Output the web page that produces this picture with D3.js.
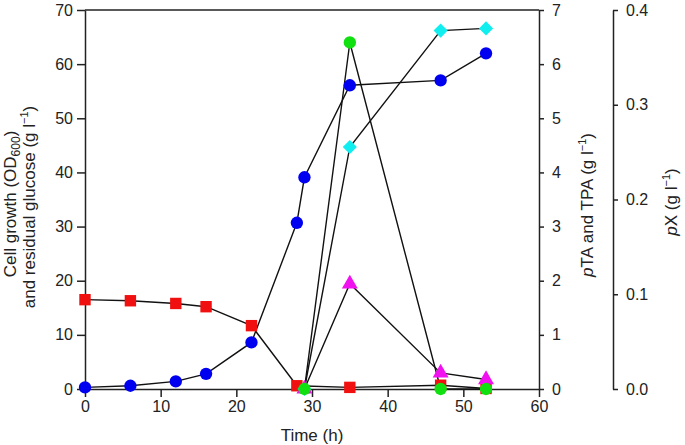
<!DOCTYPE html>
<html><head><meta charset="utf-8">
<script src="https://cdn.jsdelivr.net/npm/d3@7"></script>
<style>
body{margin:0;background:#fff;}
svg text{font-family:"Liberation Sans",Arial,Helvetica,sans-serif;fill:#222;}
</style></head>
<body><svg id="c" width="685" height="445"></svg>
<script>
// Data
const odTime = [0, 6, 12, 16, 22, 28, 29, 35, 47, 53];
const odValues = [0.3, 0.6, 1.4, 2.8, 8.6, 30.7, 39.1, 56.1, 57.0, 62.0];
const glucoseTime = [0, 6, 12, 16, 22, 28, 35, 47, 53];
const glucoseValues = [16.5, 16.3, 15.8, 15.2, 11.7, 0.6, 0.3, 0.7, 0.1];
const ptaTime = [29, 35, 47, 53];
const ptaValues = [0, 6.4, 0, 0];
const tpaTime = [29, 35, 47, 53];
const tpaValues = [0, 4.47, 6.62, 6.66];
const pxTime = [29, 35, 47, 53];
const pxValues = [0, 0.111, 0.017, 0.010];
const xTicks = [0, 10, 20, 30, 40, 50, 60];
const leftTicks = [0, 10, 20, 30, 40, 50, 60, 70];
const rightTicks = [0, 1, 2, 3, 4, 5, 6, 7];
const pxTicks = [0, 0.1, 0.2, 0.3, 0.4];

const svg = d3.select("#c");
const L = 85, R = 539, T = 10, B = 389;
const x = d3.scaleLinear().domain([0, 60]).range([L, R]);
const yL = d3.scaleLinear().domain([0, 70]).range([B, T]);
const yR = d3.scaleLinear().domain([0, 7]).range([B, T]);
const yP = d3.scaleLinear().domain([0, 0.4]).range([B, T]);
const fs = 16, tfs = 17;

function styleAxis(g){
  g.selectAll("path").attr("stroke","#222").attr("stroke-width",1.5);
  g.selectAll("line").attr("stroke","#222").attr("stroke-width",1.5);
  g.selectAll("text").style("font-size", fs+"px");
}
svg.append("g").attr("transform",`translate(0,${B})`)
  .call(d3.axisBottom(x).tickValues(xTicks).tickSize(8).tickSizeOuter(0).tickPadding(4))
  .call(styleAxis);
svg.append("g").attr("transform",`translate(${L},0)`)
  .call(d3.axisLeft(yL).tickValues(leftTicks).tickSize(8).tickSizeOuter(0).tickPadding(4))
  .call(styleAxis);
svg.append("g").attr("transform",`translate(${R},0)`)
  .call(d3.axisRight(yR).tickValues(rightTicks).tickSize(5).tickSizeOuter(0).tickPadding(8).tickFormat(d3.format("d")))
  .call(styleAxis);
svg.append("g").attr("transform",`translate(613,0)`)
  .call(d3.axisRight(yP).tickValues(pxTicks).tickSize(5).tickSizeOuter(0).tickPadding(8).tickFormat(d3.format(".1f")))
  .call(styleAxis);
svg.append("line").attr("x1",L).attr("x2",R).attr("y1",T).attr("y2",T).attr("stroke","#222").attr("stroke-width",1.5);

// titles
svg.append("text").attr("x",(L+R)/2).attr("y",441).attr("text-anchor","middle").style("font-size",tfs+"px").text("Time (h)");
const t1 = svg.append("text").attr("transform","translate(16,204) rotate(-90)").attr("text-anchor","middle").style("font-size",tfs+"px");
t1.append("tspan").text("Cell growth (OD");
t1.append("tspan").attr("dy",4).style("font-size","12px").text("600");
t1.append("tspan").attr("dy",-4).text(")");
const t2 = svg.append("text").attr("transform","translate(35,207) rotate(-90)").attr("text-anchor","middle").style("font-size",tfs+"px");
t2.append("tspan").text("and residual glucose (g l");
t2.append("tspan").attr("dy",-7).style("font-size","11px").text("−1");
t2.append("tspan").attr("dy",7).text(")");
const t3 = svg.append("text").attr("transform","translate(593,205) rotate(-90)").attr("text-anchor","middle").style("font-size",tfs+"px");
t3.append("tspan").style("font-style","italic").text("p");
t3.append("tspan").text("TA and TPA (g l");
t3.append("tspan").attr("dy",-7).style("font-size","11px").text("−1");
t3.append("tspan").attr("dy",7).text(")");
const t4 = svg.append("text").attr("transform","translate(677,202) rotate(-90)").attr("text-anchor","middle").style("font-size",tfs+"px");
t4.append("tspan").style("font-style","italic").text("p");
t4.append("tspan").text("X (g l");
t4.append("tspan").attr("dy",-7).style("font-size","11px").text("−1");
t4.append("tspan").attr("dy",7).text(")");

const series = [
  {t: odTime, v: odValues, y: yL, color: "#0000f0", sym: d3.symbolCircle, size: 120, rot: 0},
  {t: glucoseTime, v: glucoseValues, y: yL, color: "#f01010", sym: d3.symbolSquare, size: 130, rot: 0},
  {t: tpaTime, v: tpaValues, y: yR, color: "#10eef0", sym: d3.symbolSquare, size: 100, rot: 45},
  {t: pxTime, v: pxValues, y: yP, color: "#f010f0", sym: d3.symbolTriangle, size: 110, rot: 0},
  {t: ptaTime, v: ptaValues, y: yR, color: "#10e010", sym: d3.symbolCircle, size: 120, rot: 0},
];
const line = d3.line();
series.forEach(s => {
  const pts = s.t.map((t,i)=>[x(t), s.y(s.v[i])]);
  svg.append("path").attr("d", line(pts)).attr("fill","none").attr("stroke","#111").attr("stroke-width",1.4);
});
series.forEach(s => {
  const pts = s.t.map((t,i)=>[x(t), s.y(s.v[i])]);
  svg.append("g").selectAll("path").data(pts).join("path")
    .attr("transform", d=>`translate(${d[0]},${d[1]}) rotate(${s.rot})`)
    .attr("d", d3.symbol().type(s.sym).size(s.size))
    .attr("fill", s.color);
});
</script></body></html>
